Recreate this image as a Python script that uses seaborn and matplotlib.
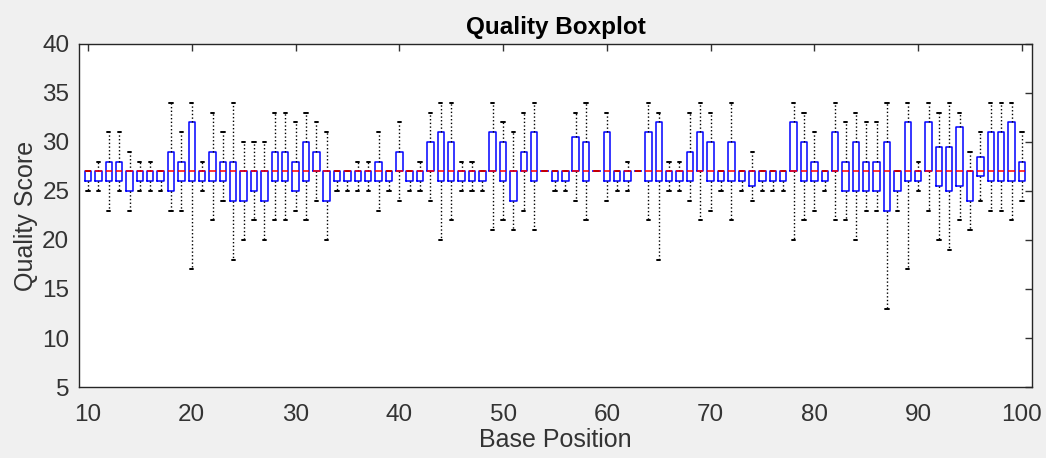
import numpy as np
import pandas as pd
import matplotlib
matplotlib.use("Agg")
import matplotlib.pyplot as plt
import seaborn as sns

# base positions 10..100
positions = list(range(10, 101))

# five-number summary per position
whisker_low = [25, 25, 23, 25, 23, 25, 25, 25, 23, 23,
               17, 25, 22, 24, 18, 20, 22, 20, 22, 22,
               23, 22, 24, 20, 25, 25, 25, 25, 23, 25,
               24, 25, 25, 24, 20, 22, 25, 25, 25, 21,
               22, 21, 23, 21, 27, 25, 25, 24, 22, 27,
               24, 25, 25, 27, 22, 18, 25, 25, 24, 22,
               23, 25, 22, 25, 24, 25, 25, 25, 20, 22,
               23, 25, 22, 22, 20, 23, 23, 13, 23, 17,
               25, 23, 20, 19, 22, 21, 24, 23, 23, 22,
               24]
q1 = [26, 26, 26, 26, 25, 26, 26, 26, 25, 26,
      26, 26, 26, 26, 24, 24, 25, 24, 26, 26,
      25, 26, 27, 24, 26, 26, 26, 26, 26, 26,
      27, 26, 26, 27, 26, 26, 26, 26, 26, 27,
      26, 24, 27, 26, 27, 26, 26, 27, 26, 27,
      26, 26, 26, 27, 26, 26, 26, 26, 26, 27,
      26, 26, 26, 26, 25.5, 26, 26, 26, 27, 26,
      26, 26, 27, 25, 25, 25, 25, 23, 25, 26,
      26, 27, 25.5, 25, 25.5, 24, 26.5, 26, 26, 26,
      26]
median = [27] * 91
q3 = [27, 27, 28, 28, 27, 27, 27, 27, 29, 28,
      32, 27, 29, 28, 28, 27, 27, 27, 29, 29,
      28, 30, 29, 27, 27, 27, 27, 27, 28, 27,
      29, 27, 27, 30, 31, 30, 27, 27, 27, 31,
      30, 27, 29, 31, 27, 27, 27, 30.5, 30, 27,
      31, 27, 27, 27, 31, 32, 27, 27, 29, 31,
      30, 27, 30, 27, 27, 27, 27, 27, 32, 30,
      28, 27, 31, 28, 30, 28, 28, 30, 27, 32,
      27, 32, 29.5, 29.5, 31.5, 27, 28.5, 31, 31, 32,
      28]
whisker_high = [27, 28, 31, 31, 29, 28, 28, 27, 34, 31,
                34, 28, 33, 31, 34, 30, 30, 30, 33, 33,
                32, 33, 32, 31, 27, 27, 28, 28, 31, 27,
                32, 27, 28, 33, 34, 34, 28, 28, 27, 34,
                32, 31, 33, 34, 27, 27, 27, 33, 34, 27,
                33, 27, 28, 27, 34, 33, 28, 28, 33, 34,
                33, 27, 34, 27, 29, 27, 27, 27, 34, 33,
                31, 27, 34, 32, 33, 32, 32, 34, 27, 34,
                28, 34, 33, 34, 33, 29, 31, 34, 34, 34,
                31]

# five samples per position reproduce the summary exactly
# (linear percentiles of 5 points land on the 2nd/3rd/4th values)
rows = []
for i, p in enumerate(positions):
    for v in (whisker_low[i], q1[i], median[i], q3[i], whisker_high[i]):
        rows.append({"pos": p, "score": v})
df = pd.DataFrame(rows)

sns.set_style("white")
plt.rcParams["font.family"] = ["Liberation Sans", "DejaVu Sans"]

fig = plt.figure(figsize=(10.46, 4.58), dpi=100, facecolor="#f0f0f0")
ax = fig.add_axes([0.0755, 0.155, 0.911, 0.749])
ax.set_facecolor("white")

sns.boxplot(data=df, x="pos", y="score", native_scale=True, whis=(0, 100),
            fill=False, width=0.62, showfliers=False, linewidth=1.0,
            boxprops=dict(color="blue", linewidth=1.1),
            medianprops=dict(color="red", linewidth=1.1),
            whiskerprops=dict(color="black", linestyle=":", linewidth=1.0),
            capprops=dict(color="black", linewidth=1.4),
            ax=ax)

ax.set_xlim(9.13, 100.96)
ax.set_ylim(5, 40)
ax.set_xticks(range(10, 101, 10))
ax.set_yticks(range(5, 41, 5))
ax.tick_params(direction="in", top=True, right=True, length=5, width=1,
               colors="#333333", labelsize=17.5)
ax.tick_params(axis="x", pad=12)
ax.tick_params(axis="y", pad=7)
for s in ax.spines.values():
    s.set_visible(True)
    s.set_color("#262626")
    s.set_linewidth(1.0)

ax.set_xlabel("Base Position", fontsize=18, color="#333333", labelpad=2)
ax.set_ylabel("Quality Score", fontsize=18, color="#333333", labelpad=3)
ax.set_title("Quality Boxplot", fontsize=17.5, fontweight="bold", color="black", pad=7)

fig.savefig("out.png", dpi=100, facecolor=fig.get_facecolor())
